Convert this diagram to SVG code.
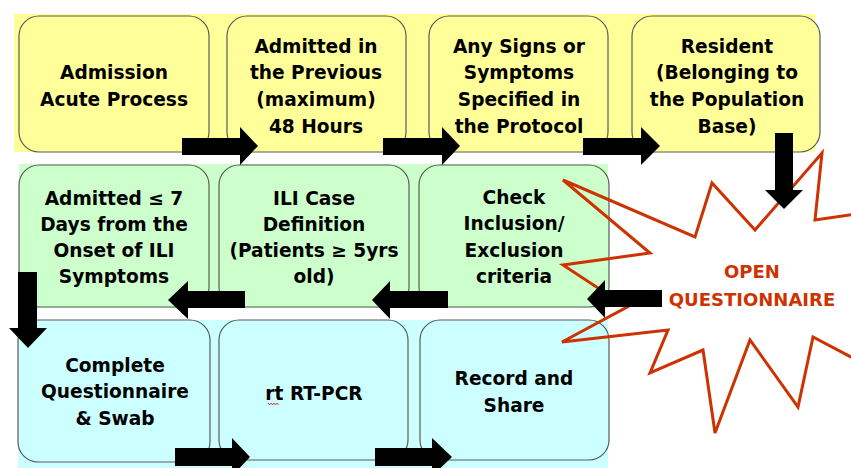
<svg xmlns="http://www.w3.org/2000/svg" width="851" height="468" viewBox="0 0 851 468">
<defs>
<style>
.box{stroke:#5a5a5a;stroke-width:1.2}
.y{fill:#FFFF99}
.g{fill:#CCFFCC}
.c{fill:#CCFFFF}
.t{font-family:"DejaVu Sans","Liberation Sans",sans-serif;font-weight:bold;font-size:18.6px;fill:#000;text-anchor:middle}
.arr{fill:#000}
.star{fill:none;stroke:#CC3300;stroke-width:3;stroke-linejoin:miter}
.st{font-family:"DejaVu Sans","Liberation Sans",sans-serif;font-weight:bold;font-size:18px;fill:#CC3300;text-anchor:middle}
</style>
</defs>
<rect width="851" height="468" fill="#fff"/>
<g id="bands">
<rect class="y" x="14" y="14" width="801" height="138"/>
<rect class="g" x="19" y="164" width="589" height="144"/>
<rect class="c" x="18" y="320" width="590" height="148"/>
</g>
<g id="n1"><rect class="box y" x="19" y="16" width="190" height="136" rx="20"/>
<text class="t" x="114"><tspan x="114" y="79">Admission</tspan><tspan x="114" y="106">Acute Process</tspan></text></g>
<g id="n2"><rect class="box y" x="227" y="16" width="179" height="136" rx="20"/>
<text class="t"><tspan x="316" y="53">Admitted in</tspan><tspan x="316" y="79">the Previous</tspan><tspan x="316" y="106">(maximum)</tspan><tspan x="316" y="133">48 Hours</tspan></text></g>
<g id="n3"><rect class="box y" x="429" y="16" width="179" height="136" rx="20"/>
<text class="t"><tspan x="519" y="53">Any Signs or</tspan><tspan x="519" y="79">Symptoms</tspan><tspan x="519" y="106">Specified in</tspan><tspan x="519" y="133">the Protocol</tspan></text></g>
<g id="n4"><rect class="box y" x="632" y="16" width="188" height="136" rx="20"/>
<text class="t"><tspan x="727" y="53">Resident</tspan><tspan x="727" y="79">(Belonging to</tspan><tspan x="727" y="106">the Population</tspan><tspan x="727" y="133">Base)</tspan></text></g>
<g id="n5"><rect class="box g" x="19" y="165" width="190" height="142" rx="20"/>
<text class="t"><tspan x="114" y="205">Admitted ≤ 7</tspan><tspan x="114" y="231">Days from the</tspan><tspan x="114" y="257">Onset of ILI</tspan><tspan x="114" y="283">Symptoms</tspan></text></g>
<g id="n6"><rect class="box g" x="219" y="165" width="190" height="142" rx="20"/>
<text class="t"><tspan x="314" y="205">ILI Case</tspan><tspan x="314" y="231">Definition</tspan><tspan x="314" y="257">(Patients ≥ 5yrs</tspan><tspan x="314" y="283">old)</tspan></text></g>
<g id="n7"><rect class="box g" x="419" y="165" width="190" height="142" rx="20"/>
<text class="t"><tspan x="514" y="204">Check</tspan><tspan x="514" y="230">Inclusion/</tspan><tspan x="514" y="257">Exclusion</tspan><tspan x="514" y="283">criteria</tspan></text></g>
<g id="n8"><rect class="box c" x="18" y="320" width="192" height="142" rx="20"/>
<text class="t"><tspan x="115" y="372">Complete</tspan><tspan x="115" y="398">Questionnaire</tspan><tspan x="115" y="425">&amp; Swab</tspan></text></g>
<g id="n9"><rect class="box c" x="219" y="320" width="189" height="140" rx="20"/>
<text class="t" x="314" y="400">rt RT-PCR</text>
<path d="M268,403 l1.5,2 l1.5,-2 l1.5,2 l1.5,-2 l1.5,2 l1.5,-2 l1.5,2" fill="none" stroke="#e02020" stroke-width="0.8"/></g>
<g id="n10"><rect class="box c" x="420" y="320" width="189" height="140" rx="20"/>
<text class="t"><tspan x="514" y="385">Record and</tspan><tspan x="514" y="412">Share</tspan></text></g>
<g id="open-questionnaire">
<polygon class="star" points="563,180 695,237 712,183 755,230 822,153 815,220 870,212 905,290 870,367 813,337 798,407 750,340 715,433 703,350 650,373 668,330 562,342 627,307 563,265 650,253"/>
</g>
<g id="connectors">
<polygon class="arr" points="182,138 240,138 240,127 258,146 240,165 240,155 182,155"/>
<polygon class="arr" points="383,138 442,138 442,127 460,146 442,165 442,155 383,155"/>
<polygon class="arr" points="583,138 641,138 641,127 660,146 641,165 641,155 583,155"/>
<polygon class="arr" points="775,133 793,133 793,190 803,190 784,209 765,190 775,190"/>
<polygon class="arr" points="662,290 605,290 605,280 587,299 605,318 605,307 662,307"/>
<polygon class="arr" points="448,291 390,291 390,281 372,300 390,319 390,308 448,308"/>
<polygon class="arr" points="245,291 188,291 188,281 168,300 188,319 188,308 245,308"/>
<polygon class="arr" points="18,272 37,272 37,328 47,328 28,348 9,328 18,328"/>
<polygon class="arr" points="175,448 232,448 232,438 250,457 232,476 232,466 175,466"/>
<polygon class="arr" points="375,448 432,448 432,438 452,457 432,476 432,466 375,466"/>
</g>
<g id="star-label">
<text class="st" x="752" y="278">OPEN</text>
<text class="st" x="752" y="306">QUESTIONNAIRE</text>
</g>
</svg>
